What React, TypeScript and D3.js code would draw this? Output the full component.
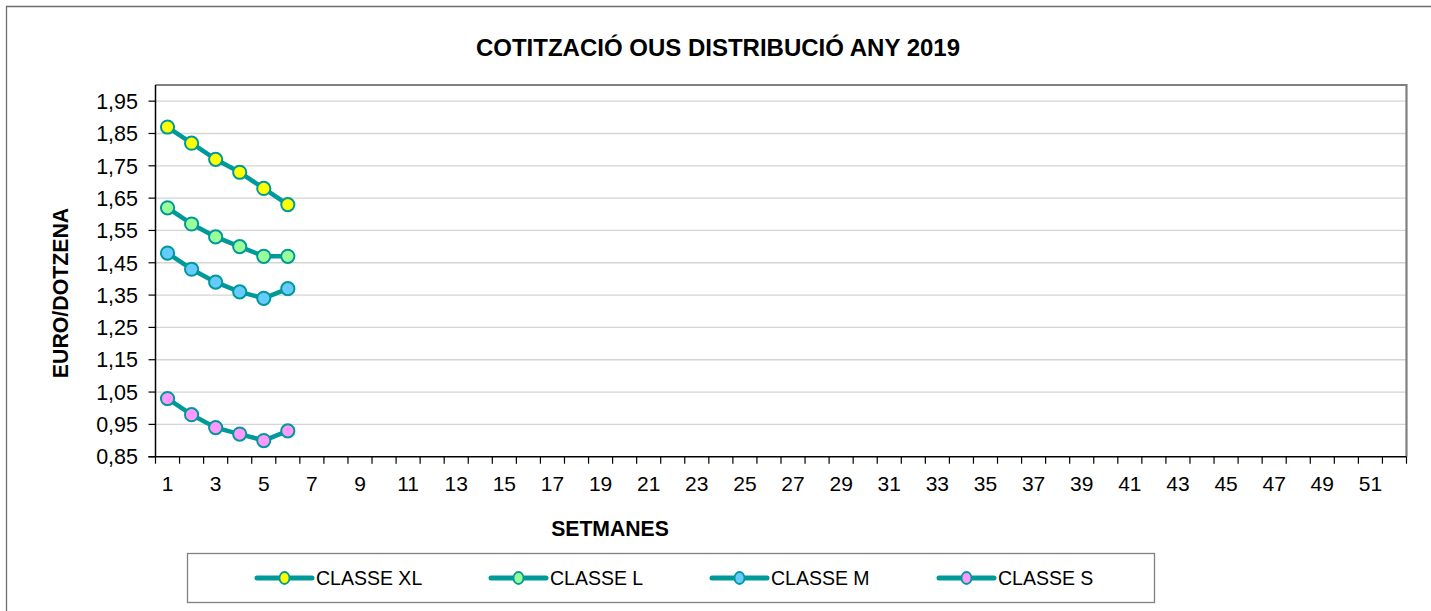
import React from "react";
import * as d3 from "d3";

const weeks: number[] = Array.from({ length: 52 }, (_, i) => i + 1);
const weekLabels: number[] = weeks.filter((w) => w % 2 === 1);
const yTicks: number[] = [0.85, 0.95, 1.05, 1.15, 1.25, 1.35, 1.45, 1.55, 1.65, 1.75, 1.85, 1.95];

const seriesNames: string[] = ["CLASSE XL", "CLASSE L", "CLASSE M", "CLASSE S"];
const classeXL: number[] = [1.87, 1.82, 1.77, 1.73, 1.68, 1.63];
const classeL: number[] = [1.62, 1.57, 1.53, 1.5, 1.47, 1.47];
const classeM: number[] = [1.48, 1.43, 1.39, 1.36, 1.34, 1.37];
const classeS: number[] = [1.03, 0.98, 0.94, 0.92, 0.9, 0.93];
const seriesFill: string[] = ["#ffff00", "#99ff99", "#66ccff", "#ff99ff"];

const TITLE = "COTITZACIÓ OUS DISTRIBUCIÓ ANY 2019";
const Y_LABEL = "EURO/DOTZENA";
const X_LABEL = "SETMANES";

const W = 1431;
const H = 611;
const LINE = "#009999";
const FONT = "'Liberation Sans', Arial, sans-serif";

export default function App() {
  const plotL = 155.5, plotR = 1406.5, plotT = 85, plotB = 456.7;
  const x = d3.scaleBand<number>().domain(weeks).range([plotL, plotR]).padding(0);
  const y = d3.scaleLinear().domain([0.85, 2.0]).range([plotB, plotT]);
  const bw = x.bandwidth();
  const cx = (w: number) => (x(w) as number) + bw / 2;
  const allSeries = [classeXL, classeL, classeM, classeS];
  const line = d3
    .line<number>()
    .x((_, i) => cx(weeks[i]))
    .y((v) => y(v));

  const boundaries = [...weeks.map((w) => x(w) as number), plotR];

  const legendItems = [257, 491, 712, 939];

  return (
    <div style={{ position: "absolute", left: 0, top: 0 }}>
      <svg width={W} height={H} style={{ display: "block", background: "#fff" }} fontFamily={FONT}>
        {/* outer frame */}
        <path d={`M6.5,${H} L6.5,6.5 L${W},6.5`} fill="none" stroke="#6e6e6e" strokeWidth={1.3} />

        {/* title */}
        <text x={718} y={55.5} textAnchor="middle" fontSize={24} fontWeight="bold" fill="#000">
          {TITLE}
        </text>

        {/* gridlines */}
        {yTicks.slice(1).map((t) => (
          <line key={t} x1={plotL} x2={plotR} y1={y(t)} y2={y(t)} stroke="#d4d4d4" strokeWidth={1.3} />
        ))}

        {/* plot border top/right */}
        <path d={`M${plotL},${plotT} L${plotR},${plotT} L${plotR},${plotB}`} fill="none" stroke="#808080" strokeWidth={2.2} />

        {/* y axis */}
        <line x1={plotL} x2={plotL} y1={plotT} y2={plotB} stroke="#000" strokeWidth={1.5} />
        {yTicks.map((t) => (
          <g key={t}>
            <line x1={plotL - 7} x2={plotL} y1={y(t)} y2={y(t)} stroke="#000" strokeWidth={1.2} />
            <text x={138} y={y(t)} dy="0.36em" textAnchor="end" fontSize={21.5} fill="#000">
              {t.toFixed(2).replace(".", ",")}
            </text>
          </g>
        ))}

        {/* x axis */}
        <line x1={plotL - 7} x2={plotR} y1={plotB} y2={plotB} stroke="#000" strokeWidth={1.5} />
        {boundaries.map((b, i) => (
          <line key={i} x1={b} x2={b} y1={plotB} y2={plotB + 7} stroke="#000" strokeWidth={1.2} />
        ))}
        {weekLabels.map((w) => (
          <text key={w} x={cx(w)} y={491} textAnchor="middle" fontSize={21} fill="#000">
            {w}
          </text>
        ))}

        {/* axis titles */}
        <text
          transform={`translate(68,${293}) rotate(-90)`}
          textAnchor="middle"
          fontSize={21.3}
          fontWeight="bold"
          fill="#000"
        >
          {Y_LABEL}
        </text>
        <text x={610} y={536} textAnchor="middle" fontSize={21.2} fontWeight="bold" fill="#000">
          {X_LABEL}
        </text>

        {/* series */}
        {allSeries.map((s, si) => (
          <g key={si}>
            <path d={line(s) || ""} fill="none" stroke={LINE} strokeWidth={4.5} strokeLinejoin="round" />
            {s.map((v, i) => (
              <circle key={i} cx={cx(weeks[i])} cy={y(v)} r={6.6} fill={seriesFill[si]} stroke={LINE} strokeWidth={2} />
            ))}
          </g>
        ))}

        {/* legend */}
        <rect x={187.5} y={553.5} width={967} height={49} fill="#fff" stroke="#808080" strokeWidth={1.3} />
        {seriesNames.map((n, i) => {
          const lx = legendItems[i];
          return (
            <g key={n}>
              <line x1={lx} x2={lx + 55} y1={578} y2={578} stroke={LINE} strokeWidth={5} strokeLinecap="round" />
              <ellipse cx={lx + 27.5} cy={578} rx={5} ry={6} fill={seriesFill[i]} stroke={LINE} strokeWidth={1.8} />
              <text x={lx + 59} y={578} dy="0.36em" fontSize={19.5} fill="#000">
                {n}
              </text>
            </g>
          );
        })}
      </svg>
    </div>
  );
}
